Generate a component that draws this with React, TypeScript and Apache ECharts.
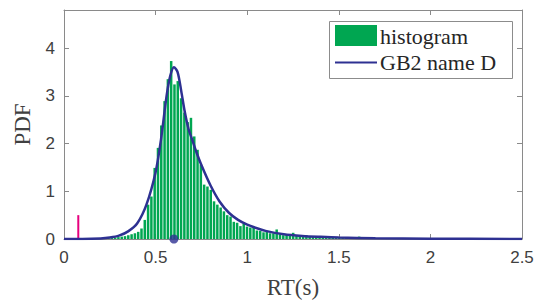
import React, { useEffect, useRef } from "react";
import * as echarts from "echarts";

// Histogram: bin width and heights (PDF-normalised), bins start at 0
const binWidth = 0.018;
const histHeights: number[] = [
  0.01, 0, 0, 0, 0, 0, 0, 0, 0, 0.005,
  0.01, 0.01, 0.01, 0.02, 0.02, 0.03, 0.04, 0.05, 0.06, 0.08,
  0.1, 0.12, 0.15, 0.22, 0.4, 0.72, 0.89, 1.49, 1.91, 2.38,
  2.89, 3.35, 3.73, 3.24, 3.31, 2.95, 2.65, 2.45, 2.54, 2.15,
  1.87, 1.56, 1.14, 1.1, 1.03, 0.79, 0.72, 0.66, 0.58, 0.5,
  0.47, 0.36, 0.34, 0.27, 0.32, 0.26, 0.24, 0.25, 0.18, 0.17,
  0.14, 0.15, 0.12, 0.12, 0.2, 0.1, 0.08, 0.09, 0.07, 0.13,
  0.07, 0.06, 0.06, 0.08, 0.05, 0.05, 0.04, 0.05, 0.04, 0.03,
  0.04, 0.03, 0.03, 0.02, 0.03, 0.02, 0.02, 0.02, 0.04, 0.05,
  0.02, 0.015, 0.01, 0.01, 0.01, 0.01, 0.01, 0.01, 0.01, 0.01,
  0.01, 0.005, 0.005, 0.005, 0.005, 0.005, 0.005, 0.005, 0.005, 0.005,
  0.005, 0.005, 0.005, 0.005, 0.005, 0.005, 0.005, 0.005, 0.005, 0.005,
  0.005, 0, 0, 0, 0, 0, 0, 0, 0, 0,
  0, 0, 0, 0, 0, 0, 0, 0, 0,
];

// Fitted GB2 curve
const curveX: number[] = [
  0, 0.1, 0.2, 0.25, 0.3, 0.35, 0.4, 0.45, 0.5, 0.53, 0.56, 0.58, 0.6, 0.62,
  0.64, 0.66, 0.68, 0.7, 0.72, 0.75, 0.8, 0.85, 0.9, 0.95, 1.0, 1.05, 1.1,
  1.2, 1.3, 1.4, 1.5, 1.7, 2.0, 2.5,
];
const curveY: number[] = [
  0, 0.0, 0.01, 0.03, 0.07, 0.16, 0.33, 0.72, 1.4, 2.1, 3.0, 3.42, 3.6, 3.5,
  3.1, 2.65, 2.3, 2.08, 1.85, 1.55, 1.12, 0.78, 0.55, 0.4, 0.3, 0.23, 0.17,
  0.1, 0.065, 0.045, 0.03, 0.015, 0.006, 0.002,
];

const modePoint: [number, number] = [0.6, 0];
const markerX = 0.078;
const markerHeight = 0.5;

const legendLabels = ["histogram", "GB2 name D"];

export default function App() {
  const ref = useRef<HTMLDivElement>(null);

  useEffect(() => {
    const chart = echarts.init(ref.current!, null, { renderer: "svg" });
    const histData = histHeights.map((h, i) => [i * binWidth, (i + 1) * binWidth, h]);
    const curveData = curveX.map((x, i) => [x, curveY[i]]);

    const axisColor = "#8a8a8a";
    const labelStyle = {
      fontFamily: "Liberation Sans, Arial, sans-serif",
      fontSize: 17,
      color: "#404040",
    };
    const titleStyle = {
      fontFamily: "Liberation Serif, serif",
      fontSize: 23,
      color: "#404040",
    };

    chart.setOption({
      animation: false,
      backgroundColor: "#ffffff",
      grid: { left: 64, right: 18, top: 10, bottom: 67, containLabel: false },
      xAxis: [
        {
          type: "value",
          position: "bottom",
          min: 0,
          max: 2.5,
          interval: 0.5,
          name: "RT(s)",
          nameLocation: "middle",
          nameGap: 37,
          nameTextStyle: titleStyle,
          axisLine: { show: true, onZero: false, lineStyle: { color: axisColor, width: 1 } },
          axisTick: { show: true, inside: true, length: 5, lineStyle: { color: axisColor } },
          axisLabel: { ...labelStyle, margin: 10, formatter: (v: number) => String(v) },
          splitLine: { show: false },
        },
        {
          type: "value",
          position: "top",
          min: 0,
          max: 2.5,
          interval: 0.5,
          axisLine: { show: true, onZero: false, lineStyle: { color: axisColor, width: 1 } },
          axisTick: { show: true, inside: true, length: 5, lineStyle: { color: axisColor } },
          axisLabel: { show: false },
          splitLine: { show: false },
        },
      ],
      yAxis: [
        {
          type: "value",
          position: "left",
          min: 0,
          max: 4.8,
          interval: 1,
          name: "PDF",
          nameLocation: "middle",
          nameGap: 30,
          nameTextStyle: titleStyle,
          axisLine: { show: true, onZero: false, lineStyle: { color: axisColor, width: 1 } },
          axisTick: { show: true, inside: true, length: 5, lineStyle: { color: axisColor } },
          axisLabel: { ...labelStyle, margin: 9, showMaxLabel: false },
          splitLine: { show: false },
        },
        {
          type: "value",
          position: "right",
          min: 0,
          max: 4.8,
          interval: 1,
          axisLine: { show: true, onZero: false, lineStyle: { color: axisColor, width: 1 } },
          axisTick: { show: true, inside: true, length: 5, lineStyle: { color: axisColor } },
          axisLabel: { show: false },
          splitLine: { show: false },
        },
      ],
      series: [
        {
          type: "custom",
          name: "histogram",
          xAxisIndex: 0,
          yAxisIndex: 0,
          data: histData,
          encode: { x: [0, 1], y: 2 },
          renderItem: (_params: any, api: any) => {
            const s = api.value(0);
            const e = api.value(1);
            const h = api.value(2);
            if (!h) return null;
            const p0 = api.coord([s, h]);
            const p1 = api.coord([e, 0]);
            const w = p1[0] - p0[0];
            return {
              type: "rect",
              shape: {
                x: p0[0] + 0.4,
                y: p0[1],
                width: Math.max(w - 0.8, 0.5),
                height: p1[1] - p0[1],
              },
              style: { fill: "#00a651" },
            };
          },
        },
        {
          type: "line",
          name: "marker",
          data: [
            [markerX, 0],
            [markerX, markerHeight],
          ],
          symbol: "none",
          lineStyle: { color: "#e6007e", width: 2 },
          z: 3,
        },
        {
          type: "line",
          name: "GB2 name D",
          data: curveData,
          smooth: 0.3,
          symbol: "none",
          lineStyle: { color: "#2e3192", width: 2.5 },
          z: 4,
        },
        {
          type: "scatter",
          name: "mode",
          data: [modePoint],
          symbol: "circle",
          symbolSize: 9,
          itemStyle: { color: "#2e3192" },
          clip: false,
          z: 5,
        },
      ],
      graphic: [
        {
          type: "rect",
          shape: { x: 329.5, y: 21.5, width: 183, height: 57 },
          style: { fill: "#ffffff", stroke: "#8c8c8c", lineWidth: 1 },
          z: 10,
        },
        {
          type: "rect",
          shape: { x: 335, y: 25, width: 42, height: 21 },
          style: { fill: "#00a651" },
          z: 11,
        },
        {
          type: "line",
          shape: { x1: 335, y1: 62.5, x2: 377, y2: 62.5 },
          style: { stroke: "#2e3192", lineWidth: 2 },
          z: 11,
        },
        {
          type: "text",
          x: 380,
          y: 36,
          style: {
            text: legendLabels[0],
            fontFamily: "Liberation Serif, serif",
            fontSize: 22,
            fill: "#262626",
            verticalAlign: "middle",
            align: "left",
          },
          z: 11,
        },
        {
          type: "text",
          x: 380,
          y: 62,
          style: {
            text: legendLabels[1],
            fontFamily: "Liberation Serif, serif",
            fontSize: 22,
            fill: "#262626",
            verticalAlign: "middle",
            align: "left",
          },
          z: 11,
        },
      ],
    });

    return () => chart.dispose();
  }, []);

  return (
    <div
      ref={ref}
      style={{ position: "fixed", left: 0, top: 0, width: 540, height: 306, background: "#fff" }}
    />
  );
}
